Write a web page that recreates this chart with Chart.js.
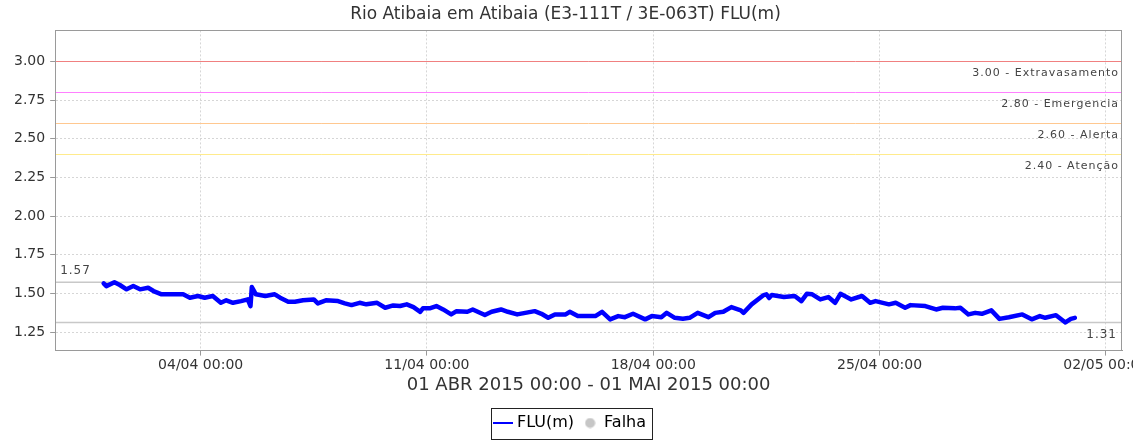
<!DOCTYPE html>
<html>
<head>
<meta charset="utf-8">
<title>FLU(m) - Rio Atibaia</title>
<script src="https://cdn.jsdelivr.net/npm/chart.js@4.4.1/dist/chart.umd.min.js"></script>
<style>
    html, body { margin: 0; padding: 0; background: #fff; overflow: hidden; }
    /* canvas is a bit wider than the window so the last x label gets cut like the original */
    #frame { width: 1133px; height: 441px; overflow: hidden; }
    #wrap { width: 1170px; height: 441px; }
</style>
</head>
<body>
<div id="frame"><div id="wrap"><canvas id="fluChart"></canvas></div></div>
<script>
// Chart texts
const chartTitle = 'Rio Atibaia em Atibaia (E3-111T / 3E-063T) FLU(m)';
const periodLabel = '01 ABR 2015 00:00 - 01 MAI 2015 00:00';

// Hours since 01/04/2015 00:00
const hours = [
    0, 2, 8, 12, 17, 22, 27, 33, 37, 43,
    50, 59, 64, 70, 75, 81, 87, 91, 96, 102,
    107, 109, 110, 113, 120, 127, 131, 137, 142, 148,
    156, 159, 165, 174, 179, 184, 190, 195, 203, 209,
    215, 220, 225, 230, 235, 237, 242, 247, 252, 258,
    262, 270, 274, 283, 288, 295, 300, 307, 313, 320,
    325, 330, 335, 343, 346, 352, 360, 365, 370, 376,
    382, 387, 393, 402, 407, 414, 418, 424, 430, 435,
    441, 449, 454, 460, 466, 473, 475, 481, 490, 492,
    494, 496, 505, 513, 518, 522, 526, 532, 538, 543,
    547, 555, 563, 569, 573, 583, 588, 595, 599, 610,
    618, 623, 632, 636, 642, 647, 652, 659, 665, 672,
    682, 689, 695, 699, 707, 714, 718, 721
];

// Water level FLU(m)
const flu = [
    1.565, 1.547, 1.572, 1.554, 1.526, 1.547, 1.526, 1.536, 1.515, 1.494,
    1.494, 1.494, 1.472, 1.483, 1.472, 1.483, 1.439, 1.455, 1.439, 1.450,
    1.461, 1.418, 1.541, 1.494, 1.483, 1.494, 1.472, 1.446, 1.446, 1.455,
    1.461, 1.435, 1.455, 1.450, 1.435, 1.424, 1.439, 1.429, 1.439, 1.407,
    1.422, 1.418, 1.429, 1.411, 1.381, 1.403, 1.403, 1.418, 1.396, 1.364,
    1.385, 1.381, 1.396, 1.360, 1.381, 1.396, 1.381, 1.364, 1.374, 1.385,
    1.368, 1.342, 1.364, 1.364, 1.381, 1.353, 1.353, 1.353, 1.381, 1.332,
    1.353, 1.346, 1.368, 1.332, 1.353, 1.346, 1.374, 1.342, 1.336, 1.342,
    1.374, 1.346, 1.374, 1.381, 1.411, 1.390, 1.374, 1.429, 1.489, 1.494,
    1.470, 1.489, 1.476, 1.483, 1.450, 1.497, 1.494, 1.461, 1.476, 1.439,
    1.497, 1.461, 1.483, 1.439, 1.450, 1.429, 1.439, 1.407, 1.424, 1.418,
    1.396, 1.407, 1.403, 1.407, 1.364, 1.374, 1.368, 1.390, 1.335, 1.346,
    1.364, 1.332, 1.353, 1.342, 1.359, 1.312, 1.335, 1.342
];

// Axis ticks
const xTickHours = [72, 240, 408, 576, 744];
const xTickLabels = ['04/04 00:00', '11/04 00:00', '18/04 00:00', '25/04 00:00', '02/05 00:00'];
const yTicks = [1.25, 1.5, 1.75, 2.0, 2.25, 2.5, 2.75, 3.0];

// Alert levels
const levelValues = [3.00, 2.80, 2.60, 2.40];
const levelNames = ['Extravasamento', 'Emergencia', 'Alerta', 'Atenção'];
const levelColors = ['#f08080', '#ff80ff', '#ffc890', '#ffeb8c'];

const FONT = '"DejaVu Sans", sans-serif';

// Small canvases used as legend markers
function makeMarker(w, h, paint) {
    const c = document.createElement('canvas');
    c.width = w;
    c.height = h;
    paint(c.getContext('2d'));
    return c;
}
const lineMarker = makeMarker(20, 2, g => {
    g.fillStyle = '#0000ff';
    g.fillRect(0, 0, 20, 2);
});
const dotMarker = makeMarker(11, 11, g => {
    g.fillStyle = '#c6c6c6';
    g.beginPath();
    g.arc(5.5, 5.5, 5, 0, Math.PI * 2);
    g.fill();
});

// same pixel snapping as the grid lines, so the 3.00 level sits on its grid line
function snap(p) {
    return Math.round(p - 0.5) + 0.5;
}

// Alert levels, max / min lines and their labels
const referenceLines = {
    id: 'referenceLines',
    afterUpdate(chart) {
        // legend sits a little right of the canvas centre in the original
        const lg = chart.legend;
        const shift = 6;
        lg.left += shift;
        lg.right += shift;
        (lg.legendHitBoxes || []).forEach(b => { b.left += shift; });
    },
    beforeDatasetsDraw(chart) {
        const { ctx, chartArea: a, scales: { y } } = chart;
        ctx.save();
        ctx.setLineDash([]);
        ctx.lineWidth = 1;
        levelValues.forEach((v, i) => {
            const py = snap(y.getPixelForValue(v));
            ctx.strokeStyle = levelColors[i];
            ctx.beginPath();
            ctx.moveTo(a.left, py);
            ctx.lineTo(a.right, py);
            ctx.stroke();
        });

        // max / min lines
        const hiY = y.getPixelForValue(Math.max(...flu));
        const loY = y.getPixelForValue(Math.min(...flu));
        ctx.strokeStyle = '#c8c8c8';
        ctx.lineWidth = 1.5;
        ctx.beginPath();
        ctx.moveTo(a.left, hiY);
        ctx.lineTo(a.right, hiY);
        ctx.moveTo(a.left, loY);
        ctx.lineTo(a.right, loY);
        ctx.stroke();
        ctx.restore();
    },
    afterDatasetsDraw(chart) {
        const { ctx, chartArea: a, scales: { y } } = chart;
        ctx.save();
        ctx.font = '11px ' + FONT;
        ctx.letterSpacing = '1px';
        ctx.textBaseline = 'middle';
        ctx.fillStyle = '#444';
        ctx.textAlign = 'right';
        levelValues.forEach((v, i) => {
            const py = snap(y.getPixelForValue(v));
            ctx.fillText(v.toFixed(2) + ' - ' + levelNames[i], a.right - 3, py + 12);
        });

        const hi = Math.max(...flu);
        const lo = Math.min(...flu);
        ctx.font = '12px ' + FONT;
        ctx.textAlign = 'left';
        ctx.fillText(hi.toFixed(2), a.left + 5, y.getPixelForValue(hi) - 11);
        ctx.textAlign = 'right';
        ctx.fillText(lo.toFixed(2), a.right - 5, y.getPixelForValue(lo) + 12);
        ctx.restore();
    },
    afterDraw(chart) {
        const { ctx, chartArea: a, legend } = chart;
        ctx.save();
        // plot frame
        ctx.strokeStyle = '#9a9a9a';
        ctx.lineWidth = 1;
        ctx.strokeRect(Math.round(a.left) + 0.5, Math.round(a.top) + 0.5,
            Math.round(a.width) - 1, Math.round(a.height));
        // legend frame
        const boxes = legend.legendHitBoxes;
        if (boxes && boxes.length) {
            const left = Math.min(...boxes.map(b => b.left)) - 6;
            const right = Math.max(...boxes.map(b => b.left + b.width)) + 6;
            const top = Math.min(...boxes.map(b => b.top)) - 7;
            const bottom = Math.max(...boxes.map(b => b.top + b.height)) + 8;
            ctx.strokeStyle = '#222';
            ctx.lineWidth = 1;
            ctx.strokeRect(Math.round(left) + 0.5, Math.round(top) + 0.5,
                Math.round(right - left), Math.round(bottom - top));
        }
        ctx.restore();
    }
};

new Chart(document.getElementById('fluChart'), {
    type: 'line',
    data: {
        datasets: [{
            label: 'FLU(m)',
            data: hours.map((h, i) => ({ x: h, y: flu[i] })),
            borderColor: '#0000ff',
            backgroundColor: '#0000ff',
            borderWidth: 4.5,
            borderJoinStyle: 'round',
            borderCapStyle: 'round',
            pointRadius: 0,
            tension: 0
        }, {
            label: 'Falha',
            data: [],
            borderColor: '#c6c6c6',
            backgroundColor: '#c6c6c6',
            pointRadius: 4,
            showLine: false
        }]
    },
    options: {
        responsive: true,
        maintainAspectRatio: false,
        animation: false,
        layout: {
            padding: { left: 9, right: 48, top: 0, bottom: 0 }
        },
        plugins: {
            title: {
                display: true,
                text: chartTitle,
                color: '#333',
                font: { family: FONT, size: 17, weight: 'normal' },
                padding: { top: 4, bottom: 6 }
            },
            legend: {
                position: 'bottom',
                labels: {
                    color: '#222',
                    font: { family: FONT, size: 16 },
                    usePointStyle: true,
                    boxWidth: 12,
                    padding: 10,
                    generateLabels: function(chart) {
                        const markers = [lineMarker, dotMarker];
                        return chart.data.datasets.map((ds, i) => ({
                            text: ds.label,
                            pointStyle: markers[i],
                            fillStyle: ds.backgroundColor,
                            strokeStyle: ds.borderColor,
                            lineWidth: 0,
                            hidden: false,
                            datasetIndex: i
                        }));
                    }
                }
            },
            tooltip: { enabled: false }
        },
        scales: {
            x: {
                type: 'linear',
                min: -36,
                max: 756,
                afterBuildTicks: function(scale) {
                    scale.ticks = xTickHours.map(v => ({ value: v }));
                },
                ticks: {
                    color: '#333',
                    font: { family: FONT, size: 14 },
                    padding: 1,
                    maxRotation: 0,
                    autoSkip: false,
                    callback: function(value) {
                        const i = xTickHours.indexOf(value);
                        return i >= 0 ? xTickLabels[i] : '';
                    }
                },
                grid: {
                    color: '#d6d6d6',
                    tickColor: '#999',
                    tickLength: 5,
                    tickBorderDash: []
                },
                border: {
                    color: '#999',
                    dash: [2, 2]
                },
                title: {
                    display: true,
                    text: periodLabel,
                    color: '#333',
                    font: { family: FONT, size: 18 },
                    padding: { top: 0, bottom: 9 }
                }
            },
            y: {
                min: 1.13,
                max: 3.2,
                afterBuildTicks: function(scale) {
                    scale.ticks = yTicks.map(v => ({ value: v }));
                },
                ticks: {
                    color: '#333',
                    font: { family: FONT, size: 14 },
                    padding: 5,
                    callback: function(value) {
                        return value.toFixed(2);
                    }
                },
                grid: {
                    color: '#d6d6d6',
                    tickColor: '#999',
                    tickLength: 5,
                    tickBorderDash: []
                },
                border: {
                    color: '#999',
                    dash: [2, 2]
                }
            }
        }
    },
    plugins: [referenceLines]
});
</script>
</body>
</html>
